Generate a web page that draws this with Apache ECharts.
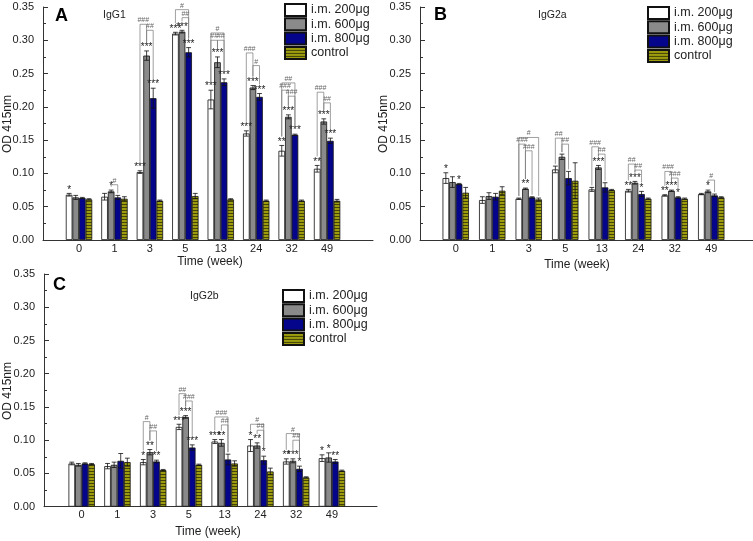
<!DOCTYPE html>
<html>
<head>
<meta charset="utf-8">
<script src="https://cdn.jsdelivr.net/npm/echarts@6/dist/echarts.min.js"></script>
<style>html,body{margin:0;padding:0;background:#fff;}#chart{width:753px;height:541px;}</style>
</head>
<body>
<div id="chart"></div>
<script>
// ---------------- DATA ----------------
const categories = ['0', '1', '3', '5', '13', '24', '32', '49'];
const seriesNames = ['i.m. 200μg', 'i.m. 600μg', 'i.m. 800μg', 'control'];
const yTicks = [0, 0.05, 0.10, 0.15, 0.20, 0.25, 0.30, 0.35];

// Panel A: IgG1
const igg1_200 = [0.068, 0.065, 0.102, 0.310, 0.211, 0.160, 0.134, 0.107];
const igg1_600 = [0.064, 0.073, 0.277, 0.313, 0.267, 0.229, 0.185, 0.178];
const igg1_800 = [0.063, 0.064, 0.213, 0.282, 0.237, 0.215, 0.158, 0.149];
const igg1_ctl = [0.061, 0.062, 0.059, 0.066, 0.061, 0.059, 0.059, 0.059];
const igg1_err200 = [0.002, 0.005, 0.002, 0.002, 0.014, 0.004, 0.008, 0.005];
const igg1_err600 = [0.003, 0.002, 0.007, 0.002, 0.008, 0.003, 0.003, 0.004];
const igg1_err800 = [0.001, 0.003, 0.015, 0.007, 0.005, 0.005, 0.001, 0.004];
const igg1_errCtl = [0.001, 0.003, 0.001, 0.004, 0.001, 0.001, 0.001, 0.002];
const igg1_star200 = ['*', '', '***', '***', '***', '***', '**', '**'];
const igg1_star600 = ['', '*', '***', '***', '***', '***', '***', '***'];
const igg1_star800 = ['', '', '***', '***', '***', '***', '***', '***'];
// [category index, from series, to series, level, text]
const igg1_brackets = [
  [1, 1, 2, 0.083, '#'],
  [2, 0, 1, 0.324, '###'], [2, 1, 2, 0.315, '##'],
  [3, 0, 2, 0.346, '#'], [3, 1, 2, 0.334, '##'],
  [4, 0, 2, 0.311, '#'], [4, 0, 1, 0.300, '##'], [4, 1, 2, 0.300, '##'],
  [5, 0, 1, 0.281, '###'], [5, 1, 2, 0.262, '#'],
  [6, 0, 2, 0.236, '##'], [6, 0, 1, 0.225, '###'], [6, 1, 2, 0.216, '###'],
  [7, 0, 1, 0.222, '###'], [7, 1, 2, 0.206, '##']
];

// Panel B: IgG2a
const igg2a_200 = [0.093, 0.060, 0.062, 0.106, 0.076, 0.074, 0.067, 0.069];
const igg2a_600 = [0.087, 0.066, 0.077, 0.125, 0.109, 0.086, 0.074, 0.073];
const igg2a_800 = [0.084, 0.065, 0.064, 0.093, 0.079, 0.069, 0.064, 0.067];
const igg2a_ctl = [0.071, 0.074, 0.061, 0.089, 0.075, 0.062, 0.062, 0.064];
const igg2a_err200 = [0.008, 0.005, 0.001, 0.005, 0.003, 0.002, 0.001, 0.001];
const igg2a_err600 = [0.008, 0.005, 0.001, 0.004, 0.003, 0.002, 0.001, 0.002];
const igg2a_err800 = [0.001, 0.005, 0.001, 0.010, 0.007, 0.004, 0.001, 0.002];
const igg2a_errCtl = [0.008, 0.006, 0.002, 0.027, 0.001, 0.001, 0.001, 0.001];
const igg2a_star200 = ['*', '', '', '', '', '**', '**', ''];
const igg2a_star600 = ['', '', '**', '', '***', '***', '***', '*'];
const igg2a_star800 = ['*', '', '', '', '', '*', '*', ''];
const igg2a_brackets = [
  [2, 0, 3, 0.154, '#'], [2, 0, 1, 0.144, '###'], [2, 1, 2, 0.134, '###'],
  [3, 0, 1, 0.153, '##'], [3, 1, 2, 0.144, '##'],
  [4, 0, 1, 0.140, '###'], [4, 1, 2, 0.129, '##'],
  [5, 0, 1, 0.114, '##'], [5, 1, 2, 0.105, '##'],
  [6, 0, 1, 0.103, '###'], [6, 1, 2, 0.093, '###'],
  [7, 1, 2, 0.090, '#']
];

// Panel C: IgG2b
const igg2b_200 = [0.065, 0.061, 0.067, 0.120, 0.098, 0.092, 0.068, 0.073];
const igg2b_600 = [0.063, 0.063, 0.082, 0.135, 0.096, 0.092, 0.069, 0.074];
const igg2b_800 = [0.065, 0.069, 0.068, 0.089, 0.071, 0.070, 0.057, 0.068];
const igg2b_ctl = [0.064, 0.067, 0.055, 0.063, 0.065, 0.053, 0.044, 0.054];
const igg2b_err200 = [0.002, 0.004, 0.004, 0.004, 0.003, 0.009, 0.004, 0.005];
const igg2b_err600 = [0.002, 0.004, 0.004, 0.002, 0.005, 0.004, 0.003, 0.007];
const igg2b_err800 = [0.001, 0.011, 0.002, 0.004, 0.008, 0.006, 0.004, 0.003];
const igg2b_errCtl = [0.001, 0.006, 0.001, 0.001, 0.004, 0.005, 0.001, 0.001];
const igg2b_star200 = ['', '', '*', '***', '***', '*', '**', '*'];
const igg2b_star600 = ['', '', '**', '***', '**', '**', '***', '*'];
const igg2b_star800 = ['', '', '**', '***', '', '*', '*', '**'];
const igg2b_brackets = [
  [2, 0, 1, 0.128, '#'], [2, 1, 2, 0.114, '##'],
  [3, 0, 1, 0.170, '##'], [3, 1, 2, 0.159, '###'],
  [4, 0, 2, 0.135, '###'], [4, 1, 2, 0.123, '##'],
  [5, 0, 2, 0.124, '#'], [5, 1, 2, 0.115, '##'],
  [6, 0, 2, 0.110, '#'], [6, 1, 2, 0.100, '##']
];

// ---------------- STYLE / LAYOUT ----------------
const FONT = '"Liberation Sans", Arial, Helvetica, sans-serif';
const BAR_W = 6.6;
const pc = document.createElement('canvas');
pc.width = 4; pc.height = 3;
const pctx = pc.getContext('2d');
pctx.fillStyle = '#9c9c0e'; pctx.fillRect(0, 0, 4, 3);
pctx.fillStyle = '#44440a'; pctx.fillRect(0, 0, 4, 1);
const barColors = ['#ffffff', '#8a8a8a', '#05058c', { image: pc, repeat: 'repeat' }];

const panels = [
  {
    letter: 'A', sub: 'IgG1',
    outer: { left: 43, top: 7, width: 330, height: 233 },
    inner: { left: 61.3, width: 283.5 },
    legend: { left: 284, top: 3 },
    letterPos: [55, 16], subPos: [103, 15], yTitle: [8, 124], xTitle: [210, 262],
    vals: [igg1_200, igg1_600, igg1_800, igg1_ctl],
    errs: [igg1_err200, igg1_err600, igg1_err800, igg1_errCtl],
    stars: [igg1_star200, igg1_star600, igg1_star800],
    brackets: igg1_brackets
  },
  {
    letter: 'B', sub: 'IgG2a',
    outer: { left: 420, top: 7, width: 333, height: 233 },
    inner: { left: 437.5, width: 292 },
    legend: { left: 647, top: 6 },
    letterPos: [434, 15], subPos: [538, 15], yTitle: [384, 124], xTitle: [577, 265],
    vals: [igg2a_200, igg2a_600, igg2a_800, igg2a_ctl],
    errs: [igg2a_err200, igg2a_err600, igg2a_err800, igg2a_errCtl],
    stars: [igg2a_star200, igg2a_star600, igg2a_star800],
    brackets: igg2a_brackets
  },
  {
    letter: 'C', sub: 'IgG2b',
    outer: { left: 44, top: 274, width: 333, height: 232.7 },
    inner: { left: 63.8, width: 286 },
    legend: { left: 282, top: 289 },
    letterPos: [53, 285], subPos: [190, 296], yTitle: [8, 391], xTitle: [208, 532],
    vals: [igg2b_200, igg2b_600, igg2b_800, igg2b_ctl],
    errs: [igg2b_err200, igg2b_err600, igg2b_err800, igg2b_errCtl],
    stars: [igg2b_star200, igg2b_star600, igg2b_star800],
    brackets: igg2b_brackets
  }
];

const option = {
  animation: false,
  backgroundColor: '#ffffff',
  grid: [], xAxis: [], yAxis: [], series: [], legend: [], graphic: []
};

const AXIS_COLOR = '#333333';

panels.forEach(function (p, pi) {
  const oi = pi * 2, ii = pi * 2 + 1;
  option.grid.push({ left: p.outer.left, top: p.outer.top, width: p.outer.width, height: p.outer.height });
  option.grid.push({ left: p.inner.left, top: p.outer.top, width: p.inner.width, height: p.outer.height });

  option.xAxis.push({
    type: 'value', gridIndex: oi, min: 0, max: 1,
    axisLine: { show: true, onZero: false, lineStyle: { color: AXIS_COLOR, width: 1 } },
    axisTick: { show: false }, axisLabel: { show: false }, splitLine: { show: false }
  });
  option.xAxis.push({
    type: 'category', gridIndex: ii, data: categories, boundaryGap: true,
    axisLine: { show: false }, axisTick: { show: false }, splitLine: { show: false },
    axisLabel: { fontSize: 11, fontFamily: FONT, color: '#222', margin: 3 }
  });
  option.yAxis.push({
    type: 'value', gridIndex: oi, min: yTicks[0], max: yTicks[yTicks.length - 1], interval: 0.05,
    axisLine: { show: true, lineStyle: { color: AXIS_COLOR, width: 1 } },
    axisTick: { show: true, inside: true, length: 5, lineStyle: { color: AXIS_COLOR } },
    minorTick: { show: true, splitNumber: 2, length: 3, lineStyle: { color: AXIS_COLOR } },
    splitLine: { show: false },
    axisLabel: { fontSize: 11, fontFamily: FONT, color: '#222', margin: 9, formatter: function (v) { return v.toFixed(2); } }
  });
  option.yAxis.push({
    type: 'value', gridIndex: ii, min: yTicks[0], max: yTicks[yTicks.length - 1], show: false
  });

  // bars
  for (let s = 0; s < 4; s++) {
    option.series.push({
      type: 'bar', name: seriesNames[s], xAxisIndex: ii, yAxisIndex: ii,
      data: p.vals[s], barWidth: BAR_W, barGap: '0%',
      itemStyle: { color: barColors[s], borderColor: '#111', borderWidth: 0.8 },
      emphasis: { disabled: true }, silent: true, z: 2
    });
  }

  // error bars + asterisks
  const records = [];
  for (let c = 0; c < categories.length; c++) {
    for (let s = 0; s < 4; s++) {
      records.push({ c: c, s: s, v: p.vals[s][c], e: p.errs[s][c], star: (p.stars[s] && p.stars[s][c]) || '' });
    }
  }
  option.series.push({
    type: 'custom', xAxisIndex: ii, yAxisIndex: ii, silent: true, z: 5,
    data: records.map(function (r) { return [r.c, r.v]; }),
    encode: { x: 0, y: 1 },
    renderItem: function (params, api) {
      const r = records[params.dataIndex];
      const x = api.coord([r.c, r.v])[0] + (r.s - 1.5) * BAR_W;
      const yT = api.coord([r.c, r.v + r.e])[1];
      const yB = api.coord([r.c, r.v - r.e])[1];
      const st = { stroke: '#111', lineWidth: 0.8 };
      const kids = [
        { type: 'line', shape: { x1: x, y1: yT, x2: x, y2: yB }, style: st },
        { type: 'line', shape: { x1: x - 2.4, y1: yT, x2: x + 2.4, y2: yT }, style: st },
        { type: 'line', shape: { x1: x - 2.4, y1: yB, x2: x + 2.4, y2: yB }, style: st }
      ];
      if (r.star) {
        kids.push({ type: 'text', style: { text: r.star, x: x, y: yT - 8.5, align: 'center', verticalAlign: 'top', font: '10px ' + FONT, fill: '#222' } });
      }
      return { type: 'group', children: kids };
    }
  });

  // significance brackets
  const br = p.brackets;
  option.series.push({
    type: 'custom', xAxisIndex: ii, yAxisIndex: ii, silent: true, z: 6,
    data: br.map(function (b) { return [b[0], b[3]]; }),
    encode: { x: 0, y: 1 },
    renderItem: function (params, api) {
      const b = br[params.dataIndex];
      const c = b[0], f = b[1], t = b[2];
      const base = api.coord([c, b[3]]);
      const yTop = base[1];
      const xL = base[0] + (f - 1.5) * BAR_W;
      const xR = base[0] + (t - 1.5) * BAR_W;
      function legBottom(s) {
        const y = api.coord([c, p.vals[s][c] + p.errs[s][c]])[1];
        const hasStar = p.stars[s] && p.stars[s][c];
        return Math.max(yTop + 2, y - (hasStar ? 9 : 2));
      }
      const st = { stroke: '#777', lineWidth: 0.7, fill: null };
      return {
        type: 'group', children: [
          { type: 'polyline', shape: { points: [[xL, legBottom(f)], [xL, yTop], [xR, yTop], [xR, legBottom(t)]] }, style: st },
          { type: 'text', style: { text: b[4], x: (xL + xR) / 2, y: yTop - 0.5, align: 'center', verticalAlign: 'bottom', font: '7px ' + FONT, fill: '#666' } }
        ]
      };
    }
  });

  option.legend.push({
    orient: 'vertical', left: p.legend.left, top: p.legend.top, padding: 0,
    itemWidth: 21, itemHeight: 12, itemGap: 0.3, selectedMode: false,
    icon: 'rect', data: seriesNames,
    textStyle: { fontSize: 12.5, fontFamily: FONT, color: '#222', lineHeight: 12 }
  });

  option.graphic.push(
    { type: 'text', x: p.letterPos[0], y: p.letterPos[1], style: { text: p.letter, font: 'bold 18px ' + FONT, fill: '#000', verticalAlign: 'middle' } },
    { type: 'text', x: p.subPos[0], y: p.subPos[1], style: { text: p.sub, font: '10.5px ' + FONT, fill: '#222', verticalAlign: 'middle' } },
    { type: 'text', x: p.yTitle[0], y: p.yTitle[1], rotation: Math.PI / 2, style: { text: 'OD 415nm', font: '12px ' + FONT, fill: '#222', align: 'center', verticalAlign: 'middle' } },
    { type: 'text', x: p.xTitle[0], y: p.xTitle[1], style: { text: 'Time (week)', font: '12px ' + FONT, fill: '#222', align: 'center', verticalAlign: 'middle' } }
  );
});

const chart = echarts.init(document.getElementById('chart'), null, { renderer: 'canvas' });
chart.setOption(option);
</script>
</body>
</html>
